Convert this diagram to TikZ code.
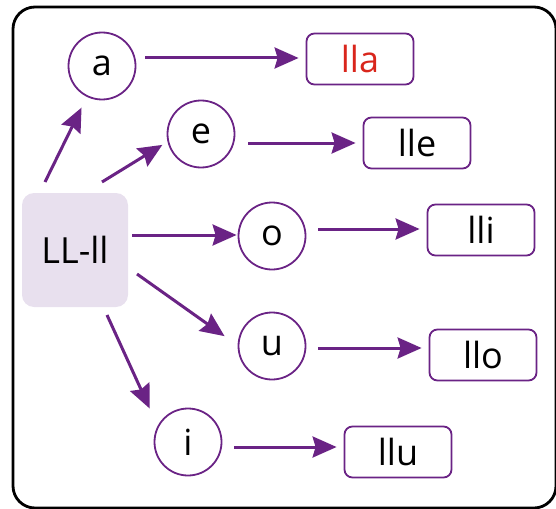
\documentclass[tikz,border=0pt]{standalone}
\usepackage{fontspec}
\setmainfont{Open Sans}
\usetikzlibrary{arrows.meta}
\definecolor{vio}{HTML}{6A2385}
\definecolor{lilac}{HTML}{E8E0EE}
\definecolor{redtxt}{HTML}{D9261C}
\begin{document}
\begin{tikzpicture}[x=1pt,y=-1pt,
  every node/.style={font=\fontsize{36}{38}\selectfont, inner sep=0pt},
  vowel/.style={circle, draw=vio, line width=1.8pt, minimum size=67pt},
  result/.style={rectangle, rounded corners=8pt, draw=vio, line width=1.8pt, minimum width=107pt, minimum height=51pt},
  rootbox/.style={rectangle, rounded corners=12pt, fill=lilac, minimum width=106pt, minimum height=114pt},
  arr/.style={draw=vio, line width=3pt, -{Stealth[length=24pt, width=21pt, inset=3pt]}, shorten <=9pt, shorten >=7pt}
]
\useasboundingbox (0,0) rectangle (556,508);
\draw[line width=2.8pt, rounded corners=22pt] (13,7) rectangle (556,508);

\node[rootbox] (root) at (75,250) {LL-ll};

\node[vowel] (a) at (102,66) {a};
\node[vowel] (e) at (201,134) {e};
\node[vowel] (o) at (272,236) {o};
\node[vowel] (u) at (272,346) {u};
\node[vowel] (i) at (188,442) {i};

\node[result, text=redtxt] (lla) at (360,59) {lla};
\node[result] (lle) at (417,143) {lle};
\node[result] (lli) at (481,230) {lli};
\node[result] (llo) at (483,355) {llo};
\node[result] (llu) at (398,452) {llu};

\coordinate (ra) at (45,182);
\coordinate (re) at (102,182);
\coordinate (ro) at (132,235);
\coordinate (ru) at (137,274);
\coordinate (ri) at (107,315);

\draw[arr, shorten <=0pt, shorten >=12pt] (ra) -- (a);
\draw[arr, shorten <=0pt, shorten >=6pt] (re) -- (e.193);
\draw[arr, shorten <=0pt, shorten >=1pt] (ro) -- (o.west |- ro);
\draw[arr, shorten <=0pt, shorten >=16pt] (ru) -- (u.179);
\draw[arr, shorten <=0pt, shorten >=19pt] (ri) -- (i.152);

\draw[arr] (a.east |- 0,58) -- (lla.west |- 0,58);
\draw[arr, shorten <=13pt] (e.east |- 0,143) -- (lle.west |- 0,143);
\draw[arr, shorten <=12pt] (o.east |- 0,229) -- (lli.west |- 0,229);
\draw[arr, shorten <=12pt] (u.east |- 0,348) -- (llo.west |- 0,348);
\draw[arr, shorten <=12pt] (i.east |- 0,447) -- (llu.west |- 0,447);
\end{tikzpicture}
\end{document}
